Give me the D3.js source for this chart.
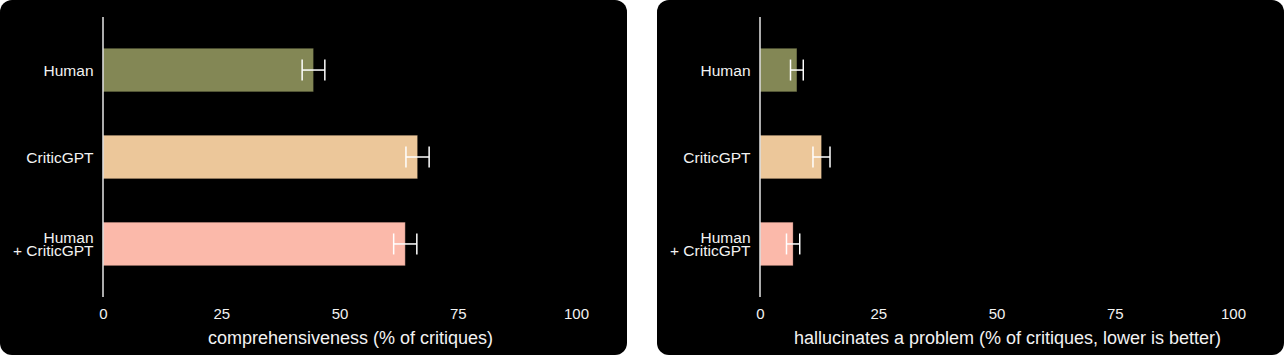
<!DOCTYPE html>
<html>
<head>
<meta charset="utf-8">
<script src="https://cdn.jsdelivr.net/npm/d3@7"></script>
<style>
  html, body { margin: 0; padding: 0; background: #ffffff; }
  svg { display: block; }
  text { font-family: "Liberation Sans", Arial, Helvetica, sans-serif; fill: #f2f2f2; }
</style>
</head>
<body>
<svg id="chart" width="1284" height="356"></svg>
<script>
// ---- data ----
const categories = [["Human"], ["CriticGPT"], ["Human", "+ CriticGPT"]];
const categoryKeys = ["Human", "CriticGPT", "Human + CriticGPT"];
const barColors = ["#838755", "#ECC79A", "#FBB9AA"];

const comprehensiveness = [44.5, 66.5, 63.9];
const comprehensivenessErr = [2.4, 2.45, 2.45];

const hallucination = [7.8, 13.0, 7.0];
const hallucinationErr = [1.35, 1.8, 1.4];

const tickValues = [0, 25, 50, 75, 100];
const tickLabels = ["0", "25", "50", "75", "100"];

const titles = [
  "comprehensiveness (% of critiques)",
  "hallucinates a problem (% of critiques, lower is better)"
];

// ---- layout ----
const svg = d3.select("#chart");
const panelW = 627, panelH = 355, panelR = 12;
const panelXs = [0, 657];
const marginLeft = 103, plotW = 473;
const yTop = 17, yBottom = 297;

const panels = [
  { values: comprehensiveness, errs: comprehensivenessErr, title: titles[0] },
  { values: hallucination, errs: hallucinationErr, title: titles[1] }
];

panels.forEach((p, pi) => {
  const g = svg.append("g").attr("transform", `translate(${panelXs[pi]},0)`);
  g.append("rect")
    .attr("x", 0).attr("y", 0)
    .attr("width", panelW).attr("height", panelH)
    .attr("rx", panelR).attr("ry", panelR)
    .attr("fill", "#000000");

  const x = d3.scaleLinear().domain([0, 100]).range([marginLeft, marginLeft + plotW]);
  const y = d3.scaleBand().domain(categoryKeys).range([yTop, yBottom])
    .paddingInner(0.5).paddingOuter(0.36);

  // bars
  g.selectAll("rect.bar").data(p.values).enter().append("rect")
    .attr("class", "bar")
    .attr("x", x(0))
    .attr("y", (d, i) => y(categoryKeys[i]))
    .attr("width", d => x(d) - x(0))
    .attr("height", y.bandwidth())
    .attr("fill", (d, i) => barColors[i])
    .attr("stroke", "rgba(0,0,0,0.25)")
    .attr("stroke-width", 1);

  // error bars
  const capH = 10.5;
  p.values.forEach((v, i) => {
    const cy = y(categoryKeys[i]) + y.bandwidth() / 2;
    const x1 = x(v - p.errs[i]), x2 = x(v + p.errs[i]);
    const eg = g.append("g").attr("stroke", "#ffffff").attr("stroke-width", 1.5);
    eg.append("line").attr("x1", x1).attr("x2", x2).attr("y1", cy).attr("y2", cy);
    eg.append("line").attr("x1", x1).attr("x2", x1).attr("y1", cy - capH).attr("y2", cy + capH);
    eg.append("line").attr("x1", x2).attr("x2", x2).attr("y1", cy - capH).attr("y2", cy + capH);
  });

  // y axis line
  g.append("line")
    .attr("x1", x(0)).attr("x2", x(0))
    .attr("y1", yTop).attr("y2", yBottom)
    .attr("stroke", "#e6e6e6").attr("stroke-width", 1.5);

  // category labels
  const fs = 15.5, lineH = 13.4;
  categories.forEach((lines, i) => {
    const cy = y(categoryKeys[i]) + y.bandwidth() / 2;
    const base = cy + 0.36 * fs - (lines.length - 1) * lineH / 2;
    const t = g.append("text")
      .attr("text-anchor", "end")
      .attr("font-size", fs);
    lines.forEach((ln, li) => {
      t.append("tspan").attr("x", x(0) - 9.5).attr("y", base + li * lineH).text(ln);
    });
  });

  // x axis tick labels (no axis line)
  const xAxis = d3.axisBottom(x).tickValues(tickValues)
    .tickFormat((d, i) => tickLabels[i]).tickSize(0).tickPadding(0);
  const ax = g.append("g").attr("transform", `translate(0,${yBottom})`).call(xAxis);
  ax.select(".domain").remove();
  ax.selectAll("text")
    .attr("font-size", 15)
    .attr("fill", "#f2f2f2")
    .attr("font-family", "Liberation Sans, Arial, sans-serif")
    .attr("dy", null)
    .attr("y", 21.7);

  // axis title
  g.append("text")
    .attr("x", marginLeft + plotW / 2 + 11)
    .attr("y", 344)
    .attr("text-anchor", "middle")
    .attr("font-size", 18)
    .text(p.title);
});
</script>
</body>
</html>
